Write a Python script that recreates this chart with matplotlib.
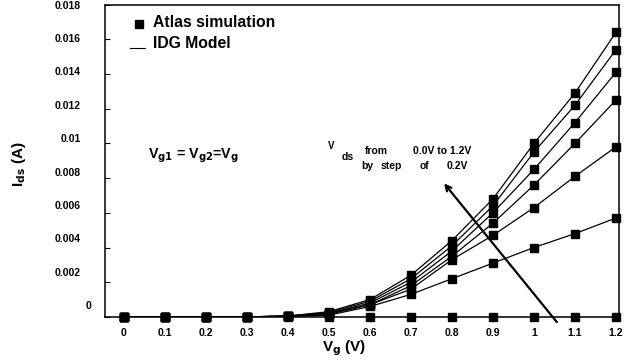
import matplotlib.pyplot as plt
from matplotlib.transforms import ScaledTranslation

plt.rcParams['font.family'] = ['Liberation Sans', 'DejaVu Sans']
plt.rcParams['font.weight'] = 'bold'

# gate voltage sweep (V)
vg = [0.0, 0.1, 0.2, 0.3, 0.4, 0.5, 0.6, 0.7, 0.8, 0.9, 1.0, 1.1, 1.2]

# drain current (A) for each drain bias
ids_vds_00 = [0, 0, 0, 0, 0, 0, 0, 0, 0, 0, 0, 0, 0]
ids_vds_02 = [0, 0, 0, 0, 0.00003, 0.0001, 0.0006, 0.0013, 0.0022, 0.0031, 0.0040, 0.0048, 0.0057]
ids_vds_04 = [0, 0, 0, 0, 0.00004, 0.00015, 0.0007, 0.0016, 0.0033, 0.0047, 0.0063, 0.0081, 0.0098]
ids_vds_06 = [0, 0, 0, 0, 0.00005, 0.0002, 0.0007, 0.0018, 0.0035, 0.0054, 0.0076, 0.0100, 0.0125]
ids_vds_08 = [0, 0, 0, 0, 0.00005, 0.0002, 0.0008, 0.0020, 0.0038, 0.0060, 0.0085, 0.0112, 0.0141]
ids_vds_10 = [0, 0, 0, 0, 0.00005, 0.00025, 0.0009, 0.0022, 0.0041, 0.0064, 0.0095, 0.0122, 0.0154]
ids_vds_12 = [0, 0, 0, 0, 0.00005, 0.0003, 0.0010, 0.0024, 0.0044, 0.0068, 0.0100, 0.0129, 0.0164]

curves = [ids_vds_00, ids_vds_02, ids_vds_04, ids_vds_06, ids_vds_08, ids_vds_10, ids_vds_12]

yticks = [0, 0.002, 0.004, 0.006, 0.008, 0.01, 0.012, 0.014, 0.016, 0.018]
ytick_labels = ['0', '0.002', '0.004', '0.006', '0.008', '0.01', '0.012', '0.014', '0.016', '0.018']
xticks = vg
xtick_labels = ['0', '0.1', '0.2', '0.3', '0.4', '0.5', '0.6', '0.7', '0.8', '0.9', '1', '1.1', '1.2']

fig = plt.figure(figsize=(6.37, 3.63), dpi=100)
ax = fig.add_axes([0.165, 0.127, 0.807, 0.86])

for ids in curves:
    ax.plot(vg, ids, color='black', lw=0.9, zorder=2)
    ax.plot(vg, ids, ls='none', marker='s', ms=6, color='black', zorder=3, clip_on=False)

ax.set_xlim(-0.046, 1.208)
ax.set_ylim(0, 0.018)
ax.set_xticks(xticks)
ax.set_xticklabels(xtick_labels, fontsize=7.5, fontweight='bold')
ax.set_yticks(yticks)
ax.set_yticklabels(ytick_labels, fontsize=7.5, fontweight='bold')
ax.tick_params(axis='x', length=0, pad=8)
ax.tick_params(axis='y', direction='in', length=3.5, width=0.8, pad=17.5)

# the original tick labels creep upward relative to their ticks
for lab, val in zip(ax.get_yticklabels(), yticks):
    dy = (0.018 - val) / 0.002 * 1.3 / 100
    dx = 11 / 100 if val == 0 else 0
    lab.set_transform(lab.get_transform() + ScaledTranslation(dx, dy, fig.dpi_scale_trans))

for side in ['left', 'right', 'top', 'bottom']:
    ax.spines[side].set_linewidth(1.1)

ax.set_xlabel('V$_\\mathbf{g}$ (V)', fontsize=11, fontweight='bold')
ax.xaxis.set_label_coords(0.465, -0.07)
ax.set_ylabel('I$_\\mathbf{ds}$ (A)', fontsize=11, fontweight='bold')
ax.yaxis.set_label_coords(-0.15, 0.49)

# legend drawn by hand to match the original placement
ax.plot([0.066], [0.938], ls='none', marker='s', ms=6, color='black',
        transform=ax.transAxes, clip_on=False)
ax.text(0.093, 0.944, 'Atlas simulation', transform=ax.transAxes,
        fontsize=11.3, fontweight='bold', va='center')
ax.plot([0.049, 0.078], [0.86, 0.86], color='black', lw=0.8, transform=ax.transAxes)
ax.text(0.093, 0.876, 'IDG Model', transform=ax.transAxes,
        fontsize=11.3, fontweight='bold', va='center')

ax.text(0.059, 0.0093, 'V$_\\mathbf{g1}$ = V$_\\mathbf{g2}$=V$_\\mathbf{g}$',
        fontsize=10.3, fontweight='bold', va='center')

ax.text(0.498, 0.00986, 'V', fontsize=7, fontweight='bold', va='center')
ax.text(0.531, 0.00923, 'ds', fontsize=7.5, fontweight='bold', va='center')
ax.text(0.587, 0.00957, 'from', fontsize=7.5, fontweight='bold', va='center')
ax.text(0.704, 0.00957, '0.0V to 1.2V', fontsize=7.5, fontweight='bold', va='center')
ax.text(0.578, 0.00871, 'by', fontsize=7.5, fontweight='bold', va='center')
ax.text(0.625, 0.00871, 'step', fontsize=7.5, fontweight='bold', va='center')
ax.text(0.721, 0.00871, 'of', fontsize=7.5, fontweight='bold', va='center')
ax.text(0.788, 0.00871, '0.2V', fontsize=7.5, fontweight='bold', va='center')

ax.annotate('', xy=(0.781, 0.0077), xytext=(1.056, -0.0003),
            arrowprops=dict(arrowstyle='->', lw=1.6, color='black',
                            mutation_scale=10, shrinkA=0, shrinkB=0),
            annotation_clip=False)

fig.savefig('out.png', dpi=100)
